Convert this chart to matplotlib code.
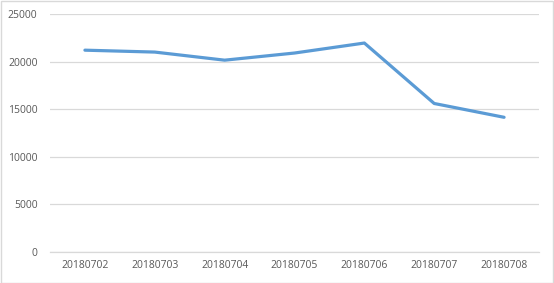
import matplotlib
matplotlib.use("Agg")
import matplotlib.pyplot as plt
from matplotlib.patches import Rectangle

categories = ["20180702", "20180703", "20180704", "20180705", "20180706", "20180707", "20180708"]
values = [21200, 21000, 20150, 20900, 21950, 15600, 14150]
yticks = [0, 5000, 10000, 15000, 20000, 25000]

plt.rcParams['font.family'] = ['Open Sans', 'DejaVu Sans']
fig = plt.figure(figsize=(5.54, 2.83), dpi=100)
fig.patch.set_facecolor('white')
ax = fig.add_axes([50/554, 31/283, 489/554, 238/283])

x = list(range(len(categories)))
ax.plot(x, values, color='#5B9BD5', linewidth=2.3, solid_capstyle='round', solid_joinstyle='round', zorder=3)
ax.set_xlim(-0.5, len(categories) - 0.5)
ax.set_ylim(0, 25000)
ax.set_yticks(yticks)
ax.set_yticklabels([str(v) for v in yticks])
ax.set_xticks(x)
ax.set_xticklabels(categories)
ax.grid(axis='y', color='#D9D9D9', linewidth=0.9)
ax.set_axisbelow(True)
for s in ['top', 'right', 'left']:
    ax.spines[s].set_visible(False)
ax.spines['bottom'].set_color('#D9D9D9')
ax.spines['bottom'].set_linewidth(0.9)
ax.tick_params(axis='both', length=0, colors='#595959', labelsize=7.5)
ax.tick_params(axis='y', pad=9)
ax.tick_params(axis='x', pad=6)

fig.add_artist(Rectangle((0.5/554, 0.5/283), 552/554, 281.5/283, transform=fig.transFigure,
                         fill=False, edgecolor='#D9D9D9', linewidth=1))
fig.savefig('out.png', dpi=100)
